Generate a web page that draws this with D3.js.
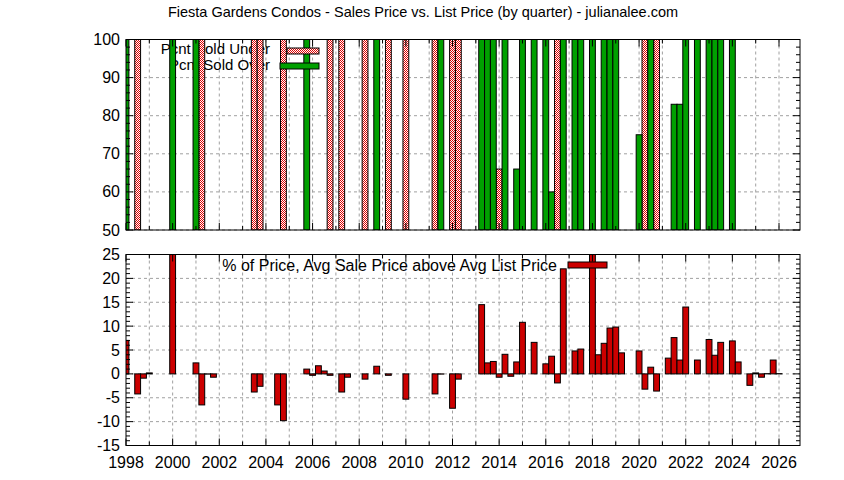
<!DOCTYPE html>
<html><head><meta charset="utf-8">
<script src="https://cdn.jsdelivr.net/npm/d3@7"></script>
<style>body{margin:0;background:#fff}svg{font-family:"Liberation Sans",Arial,sans-serif}</style>
</head><body><svg id="c" width="844" height="480"></svg>
<script>
const title = "Fiesta Gardens Condos - Sales Price vs. List Price (by quarter) - julianalee.com";
// top panel: [quarter, value]
const soldUnder = [[1998.5,100],[2001.25,100],[2003.5,100],[2003.75,100],[2004.75,100],[2006.75,100],[2007.25,100],[2008.25,100],[2009.25,100],[2010.0,100],[2011.25,100],[2012.0,100],[2012.25,100],[2014.0,66],[2016.5,100],[2020.25,100],[2020.75,100]];
const soldOver = [[1998.0,100],[2000.0,100],[2001.0,100],[2005.75,100],[2008.75,100],[2011.5,100],[2013.25,100],[2013.5,100],[2013.75,100],[2014.25,100],[2014.75,66],[2015.0,100],[2015.5,100],[2016.0,100],[2016.25,60],[2016.75,100],[2017.25,100],[2017.5,100],[2018.0,100],[2018.5,100],[2018.75,100],[2019.0,100],[2020.0,75],[2020.5,100],[2021.5,83],[2021.75,83],[2022.0,100],[2022.5,100],[2023.0,100],[2023.25,100],[2023.5,100],[2024.0,100]];
// bottom panel
const pctAbove = [[1998.0,7],[1998.5,-4.2],[1998.75,-0.9],[1999.0,0.2],[2000.0,26],[2001.0,2.3],[2001.25,-6.5],[2001.5,-0.05],[2001.75,-0.7],[2003.5,-3.8],[2003.75,-2.6],[2004.5,-6.5],[2004.75,-9.8],[2005.75,1.0],[2006.0,-0.3],[2006.25,1.7],[2006.5,0.6],[2006.75,-0.3],[2007.25,-3.8],[2007.5,-0.7],[2008.25,-1.1],[2008.75,1.6],[2009.25,-0.3],[2010.0,-5.3],[2011.25,-4.2],[2011.5,-0.05],[2012.0,-7.2],[2012.25,-1.1],[2013.25,14.5],[2013.5,2.3],[2013.75,2.6],[2014.0,-0.7],[2014.25,4.1],[2014.5,-0.5],[2014.75,2.5],[2015.0,10.8],[2015.5,6.6],[2016.0,2.1],[2016.25,3.7],[2016.5,-1.9],[2016.75,22],[2017.25,4.8],[2017.5,5.2],[2018.0,26],[2018.25,4.0],[2018.5,6.4],[2018.75,9.6],[2019.0,9.8],[2019.25,4.4],[2020.0,4.8],[2020.25,-3.2],[2020.5,1.4],[2020.75,-3.6],[2021.25,3.3],[2021.5,7.6],[2021.75,2.9],[2022.0,14],[2022.5,2.9],[2023.0,7.2],[2023.25,3.9],[2023.5,6.6],[2024.0,6.9],[2024.25,2.5],[2024.75,-2.4],[2025.0,0.2],[2025.25,-0.7],[2025.5,0.05],[2025.75,2.9],[2026.0,0.05]];
const xTicks = d3.range(1998, 2027, 2);
const topTicks = [50,60,70,80,90,100];
const botTicks = [-15,-10,-5,0,5,10,15,20,25];

const svg = d3.select("#c");
const defs = svg.append("defs");
const pat = defs.append("pattern").attr("id","chk").attr("width",2).attr("height",2).attr("patternUnits","userSpaceOnUse");
pat.append("rect").attr("width",2).attr("height",2).attr("fill","#fff");
pat.append("rect").attr("width",1).attr("height",1).attr("fill","#e00000");
pat.append("rect").attr("x",1).attr("y",1).attr("width",1).attr("height",1).attr("fill","#e00000");

const L=126, R=800;
const x = d3.scaleLinear().domain([1998, 2026.9]).range([L, R]);
const yT = d3.scaleLinear().domain([50,100]).range([230,39.5]);
const yB = d3.scaleLinear().domain([-15,25]).range([445.5,254.5]);
const bw = x(1998.25)-x(1998);

svg.append("text").attr("x",423).attr("y",17).attr("text-anchor","middle").attr("font-size",14.5).text(title);

function panel(y, ticks, minorStep, id){
  const g = svg.append("g");
  const [b,t] = y.range();
  defs.append("clipPath").attr("id",id).append("rect").attr("x",L).attr("y",t).attr("width",R-L).attr("height",b-t);
  d3.range(1999, 2027).forEach(v=>g.append("line").attr("x1",x(v)).attr("x2",x(v)).attr("y1",t).attr("y2",b).attr("stroke","#a0a0a0").attr("stroke-dasharray","3,3"));
  ticks.forEach(v=>g.append("line").attr("x1",L).attr("x2",R).attr("y1",y(v)).attr("y2",y(v)).attr("stroke","#a0a0a0").attr("stroke-dasharray","3,3"));
  return g;
}
function frame(y, ticks, minorStep, labelsX){
  const [b,t] = y.range();
  const g = svg.append("g");
  g.append("rect").attr("x",L).attr("y",t).attr("width",R-L).attr("height",b-t).attr("fill","none").attr("stroke","#000");
  const d = y.domain();
  d3.range(d[0], d[1]+0.001, minorStep).forEach(v=>{
    const major = ticks.includes(Math.round(v*100)/100);
    const len = major?7:4;
    g.append("line").attr("x1",L).attr("x2",L+len).attr("y1",y(v)).attr("y2",y(v)).attr("stroke","#000");
    g.append("line").attr("x1",R).attr("x2",R-len).attr("y1",y(v)).attr("y2",y(v)).attr("stroke","#000");
  });
  ticks.forEach(v=>g.append("text").attr("x",L-6).attr("y",y(v)+5.5).attr("text-anchor","end").attr("font-size",16).text(v));
  d3.range(1998, 2027).forEach(v=>{
    const len = v%2===0?7:4;
    g.append("line").attr("x1",x(v)).attr("x2",x(v)).attr("y1",b).attr("y2",b-len).attr("stroke","#000");
    g.append("line").attr("x1",x(v)).attr("x2",x(v)).attr("y1",t).attr("y2",t+len).attr("stroke","#000");
  });
  if(labelsX) xTicks.forEach(v=>g.append("text").attr("x",x(v)).attr("y",b+22).attr("text-anchor","middle").attr("font-size",16).text(v));
}

// top
panel(yT, topTicks, 2, "clipT");
svg.append("text").attr("x",270).attr("y",54).attr("text-anchor","end").attr("font-size",15).text("Pcnt Sold Under");
svg.append("text").attr("x",270).attr("y",70).attr("text-anchor","end").attr("font-size",15).text("Pcnt Sold Over");
const gt = svg.append("g").attr("clip-path","url(#clipT)");
gt.selectAll(".u").data(soldUnder).join("rect").attr("x",d=>x(d[0])-bw/2).attr("width",bw).attr("y",d=>yT(d[1])).attr("height",d=>yT(50)-yT(d[1])).attr("fill","url(#chk)").attr("stroke","#000");
gt.selectAll(".o").data(soldOver).join("rect").attr("x",d=>x(d[0])-bw/2).attr("width",bw).attr("y",d=>yT(d[1])).attr("height",d=>yT(50)-yT(d[1])).attr("fill","#00a000").attr("stroke","#000");
frame(yT, topTicks, 2, false);
svg.append("rect").attr("x",287).attr("y",48).attr("width",32).attr("height",6).attr("fill","url(#chk)").attr("stroke","#000");
svg.append("rect").attr("x",280).attr("y",63).attr("width",39).attr("height",6).attr("fill","#00a000").attr("stroke","#000");

// bottom
panel(yB, botTicks, 1, "clipB");
svg.append("text").attr("x",557).attr("y",271).attr("text-anchor","end").attr("font-size",16).text("% of Price, Avg Sale Price above Avg List Price");
const gb = svg.append("g").attr("clip-path","url(#clipB)");
gb.selectAll("rect").data(pctAbove).join("rect").attr("x",d=>x(d[0])-bw/2).attr("width",bw)
  .attr("y",d=>yB(Math.max(0,d[1]))).attr("height",d=>Math.abs(yB(d[1])-yB(0))).attr("fill","#cc0000").attr("stroke","#000");
frame(yB, botTicks, 1, true);
svg.append("rect").attr("x",568).attr("y",262).attr("width",39).attr("height",6).attr("fill","#cc0000").attr("stroke","#000");
</script></body></html>
